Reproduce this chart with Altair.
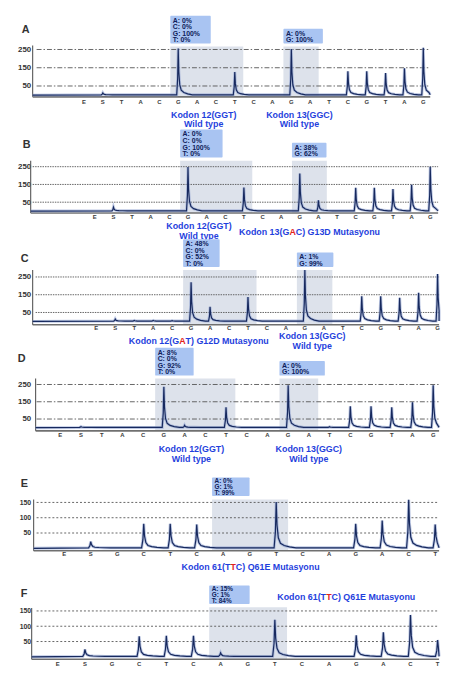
import altair as alt
import pandas as pd

# ---------------- values ----------------
DISP_12_13 = ["E", "S", "T", "A", "C", "G", "A", "C", "T", "C", "A", "G", "A", "T", "C", "G", "T", "A", "G"]
DISP_61 = ["E", "S", "G", "C", "T", "C", "A", "G", "T", "C", "A", "G", "A", "C", "T"]

PEAKS_A = [0, 12, 0, 0, 0, 255, 0, 0, 127, 0, 0, 252, 0, 0, 131, 130, 121, 147, 259]
PEAKS_B = [0, 22, 0, 0, 0, 248, 0, 0, 133, 0, 0, 211, 61, 0, 131, 131, 124, 148, 250]
PEAKS_C = [0, 13, 5, 5, 4, 220, 82, 0, 137, 0, 0, 289, 0, 0, 141, 141, 133, 161, 267]
PEAKS_D = [0, 6, 0, 0, 0, 237, 14, 0, 118, 0, 0, 246, 0, 5, 124, 124, 118, 147, 246]
PEAKS_E = [0, 22, 0, 80, 80, 78, 0, 0, 151, 0, 0, 80, 91, 159, 78]
PEAKS_F = [0, 24, 0, 67, 69, 69, 13, 0, 121, 0, 0, 70, 80, 137, 55]

TICKS_12_13 = [50, 150, 250]
TICKS_61 = [50, 100, 150]

# highlighted codons as (first, last) dispensation index
CODONS_12_13 = [(5, 8), (11, 12)]
CODONS_61 = [(6, 8)]

ALLELES_A = ["A: 0%\nC: 0%\nG: 100%\nT: 0%", "A: 0%\nG: 100%"]
ALLELES_B = ["A: 0%\nC: 0%\nG: 100%\nT: 0%", "A: 38%\nG: 62%"]
ALLELES_C = ["A: 48%\nC: 0%\nG: 52%\nT: 0%", "A: 1%\nG: 99%"]
ALLELES_D = ["A: 8%\nC: 0%\nG: 92%\nT: 0%", "A: 0%\nG: 100%"]
ALLELES_E = ["A: 0%\nG: 1%\nT: 99%"]
ALLELES_F = ["A: 15%\nG: 1%\nT: 84%"]

# label lines: list of (text, is_red) segments
WT12 = [[("Kodon 12(GGT)", 0)], [("Wild type", 0)]]
WT13 = [[("Kodon 13(GGC)", 0)], [("Wild type", 0)]]
MUT13 = [[("Kodon 13(G", 0), ("A", 1), ("C)  G13D Mutasyonu", 0)]]
MUT12 = [[("Kodon 12(G", 0), ("A", 1), ("T) G12D Mutasyonu", 0)]]
MUT61 = [[("Kodon 61(T", 0), ("T", 1), ("C) Q61E Mutasyonu", 0)]]

LABELS_A = [WT12, WT13]
LABELS_B = [WT12, MUT13]
LABELS_C = [MUT12, WT13]
LABELS_D = [WT12, WT13]
LABELS_E = [MUT61]
LABELS_F = [MUT61]

TAGS = ["A", "B", "C", "D", "E", "F"]

# ---------------- styles ----------------
FONT = "Liberation Sans"
BLUE = "#1f3fdd"
RED = "#e3231c"
NAVY = "#17295e"
HALO = "#9aabd4"
HL = "#dde2eb"
ANN = "#a9c4f2"
ANN_TXT = "#0f1d5a"
GRID = "#555555"
AXIS = "#707070"

AW = {"K": 722, "o": 611, "d": 611, "n": 611, " ": 278, "(": 333, ")": 333, "G": 778,
      "A": 722, "T": 611, "C": 722, "W": 944, "i": 278, "l": 278, "t": 333, "y": 556,
      "p": 611, "e": 556, "D": 722, "M": 833, "u": 611, "a": 556, "s": 556, "Q": 778, "E": 667}


def text_width(s, size):
    return sum(AW.get(c, 556) for c in s) * size / 1000.0


PLOT_LEFT = 32
PLOT_RIGHT = 444

# ---------------- layout (page pixel coordinates) ----------------
LAYOUT = [
    dict(top=38.5, zero=90.25, k=0.185, p0=84, d=19.11, axis0=32, right=435, grid0=36, axis_y=92,
         letters_y=97, vtop=40, hl_top=41, ann_bottom=38, ann_w=[41, 40], ann_fs=7, ann_lh=6.7,
         label_xy=[(205.5, 110), (302.5, 110)], label_ls=10, label_fs=9, tag_xy=(21, 24),
         dash=[5, 2, 1.5, 2], tick_fs=8),
    dict(top=155.7, zero=207, k=0.18, p0=95, d=18.89, axis0=30, right=443, grid0=32, axis_y=209,
         letters_y=213.5, vtop=156, hl_top=156, ann_bottom=152.7, ann_w=[43, 35], ann_fs=7, ann_lh=6.7,
         label_xy=[(200.7, 222), (314, 228)], label_ls=10, label_fs=9, tag_xy=(22, 140),
         dash=[1.5, 1], tick_fs=8),
    dict(top=264.9, zero=318, k=0.18, p0=96.5, d=19.22, axis0=32, right=444, grid0=35, axis_y=321.5,
         letters_y=325, vtop=266, hl_top=266, ann_bottom=263, ann_w=[37, 37], ann_fs=7, ann_lh=6.7,
         label_xy=[(200.5, 338), (315.5, 333)], label_ls=10, label_fs=9, tag_xy=(20, 254.5),
         dash=[1.5, 1], tick_fs=8),
    dict(top=375.9, zero=425.75, k=0.175, p0=60, d=21.0, axis0=35, right=444, grid0=36, axis_y=429,
         letters_y=433.5, vtop=376, hl_top=376, ann_bottom=373, ann_w=[39, 46], ann_fs=7, ann_lh=6.7,
         label_xy=[(193, 447.5), (312, 447.5)], label_ls=10, label_fs=9, tag_xy=(17, 356.5),
         dash=[5, 2, 1.5, 2], tick_fs=8),
    dict(top=496.35, zero=547.5, k=0.31, p0=64, d=26.86, axis0=33, right=444, grid0=36, axis_y=550,
         letters_y=553.5, vtop=498, hl_top=498, ann_bottom=494.5, ann_w=[38], ann_fs=6.5, ann_lh=5.8,
         label_xy=[(253, 566)], label_ls=10, label_fs=9, tag_xy=(20, 482.5), dash=[2, 2], tick_fs=7),
    dict(top=606.35, zero=657.5, k=0.31, p0=57.5, d=27.5, axis0=31, right=444, grid0=36, axis_y=660,
         letters_y=665, vtop=608, hl_top=607.3, ann_bottom=604, ann_w=[41], ann_fs=6.5, ann_lh=5.8,
         label_xy=[(350, 597)], label_ls=10, label_fs=9, tag_xy=(20, 593.5), dash=[2, 2], tick_fs=7),
]
PAGE_BOTTOM = 662  # last panel's area ends here (the page must fit the window)

PANELS = [
    dict(disp=DISP_12_13, peaks=PEAKS_A, ticks=TICKS_12_13, codons=CODONS_12_13, alleles=ALLELES_A, labels=LABELS_A),
    dict(disp=DISP_12_13, peaks=PEAKS_B, ticks=TICKS_12_13, codons=CODONS_12_13, alleles=ALLELES_B, labels=LABELS_B),
    dict(disp=DISP_12_13, peaks=PEAKS_C, ticks=TICKS_12_13, codons=CODONS_12_13, alleles=ALLELES_C, labels=LABELS_C),
    dict(disp=DISP_12_13, peaks=PEAKS_D, ticks=TICKS_12_13, codons=CODONS_12_13, alleles=ALLELES_D, labels=LABELS_D),
    dict(disp=DISP_61, peaks=PEAKS_E, ticks=TICKS_61, codons=CODONS_61, alleles=ALLELES_E, labels=LABELS_E),
    dict(disp=DISP_61, peaks=PEAKS_F, ticks=TICKS_61, codons=CODONS_61, alleles=ALLELES_F, labels=LABELS_F),
]

# peak drawing profile (index offset, fraction of height)
SHAPE = [(-0.08, 0.0), (-0.03, 0.35), (0.0, 1.0), (0.03, 0.5), (0.08, 0.22), (0.16, 0.1),
         (0.3, 0.05), (0.5, 0.02), (0.75, 0.0)]
BASE = 1.5

ONE = pd.DataFrame({"a": [0]})


def build_trace(peaks, x0, x1):
    rows = [(x0, 0.0)]
    for i, h in enumerate(peaks):
        if h <= 0:
            continue
        for off, f in SHAPE:
            xx = i + off
            if xx <= x1:
                rows.append((xx, BASE + f * (h - BASE)))
    rows.append((x1, BASE))
    df = pd.DataFrame(rows, columns=["x", "y"]).sort_values("x").reset_index(drop=True)
    df["o"] = range(len(df))
    return df


def make_panel(idx, p, L, next_top):
    top, zero, k, p0, d = L["top"], L["zero"], L["k"], L["p0"], L["d"]
    height = next_top - top
    width = PLOT_RIGHT - PLOT_LEFT
    ymax = (zero - top) / k
    ymin = ymax - height / k
    xmin = (PLOT_LEFT - p0) / d
    xmax = (PLOT_RIGHT - p0) / d

    def X(px):
        return (px - p0) / d

    def V(py):
        return (zero - py) / k

    def PX(px):
        return px - PLOT_LEFT

    def PY(py):
        return py - top

    xs = alt.Scale(domain=[xmin, xmax], nice=False, zero=False)
    ys = alt.Scale(domain=[ymin, ymax], nice=False, zero=False)
    yaxis = alt.Axis(values=p["ticks"], domain=False, ticks=False, grid=False, labelFont=FONT,
                     labelFontSize=L["tick_fs"], labelFontWeight="bold", labelColor="#333333",
                     labelPadding=2, title="")

    def xe(f):
        return alt.X(f"{f}:Q", scale=xs, axis=None)

    def ye(f):
        return alt.Y(f"{f}:Q", scale=ys, axis=yaxis)

    layers = []

    # highlighted codon regions
    hl = pd.DataFrame({
        "x0": [a - 0.42 for a, b in p["codons"]],
        "x1": [b + 0.45 for a, b in p["codons"]],
        "y0": [V(L["axis_y"])] * len(p["codons"]),
        "y1": [V(L["hl_top"])] * len(p["codons"]),
    })
    layers.append(alt.Chart(hl).mark_rect(color=HL).encode(
        x=xe("x0"), x2=alt.X2("x1"), y=ye("y1"), y2=alt.Y2("y0")))

    # grid lines
    grid = pd.DataFrame({"y": p["ticks"]})
    layers.append(alt.Chart(grid).mark_rule(color=GRID, strokeWidth=0.9, strokeDash=L["dash"]).encode(
        y=ye("y"), x=alt.value(PX(L["grid0"])), x2=alt.value(PX(L["right"]))))

    # axis lines
    layers.append(alt.Chart(ONE).mark_rule(color=AXIS, strokeWidth=1.6).encode(
        x=alt.value(PX(L["axis0"])), x2=alt.value(PX(L["right"])), y=alt.value(PY(L["axis_y"]))))
    layers.append(alt.Chart(ONE).mark_rule(color="#555555", strokeWidth=1.1).encode(
        x=alt.value(PX(L["axis0"])), y=alt.value(PY(L["vtop"])), y2=alt.value(PY(L["axis_y"]))))

    # pyrogram trace
    tr = build_trace(p["peaks"], X(L["axis0"]), X(L["right"]))
    layers.append(alt.Chart(tr).mark_line(color=HALO, strokeWidth=3, opacity=0.65).encode(
        x=xe("x"), y=ye("y"), order="o:Q"))
    layers.append(alt.Chart(tr).mark_line(color=NAVY, strokeWidth=1.2).encode(
        x=xe("x"), y=ye("y"), order="o:Q"))

    # dispensation letters
    let = pd.DataFrame({"i": list(range(len(p["disp"]))), "t": p["disp"]})
    layers.append(alt.Chart(let).mark_text(font=FONT, fontSize=6, fontWeight="bold", color="#3c3c3c",
                                            baseline="middle").encode(
        x=xe("i"), y=alt.value(PY(L["letters_y"])), text="t:N"))

    # allele annotation boxes
    n = [a.count("\n") + 1 for a in p["alleles"]]
    tops = [L["ann_bottom"] - m * L["ann_lh"] - 1.5 for m in n]
    ann = pd.DataFrame({
        "x0": [a - 0.42 for a, b in p["codons"]],
        "x1": [a - 0.42 + w / d for (a, b), w in zip(p["codons"], L["ann_w"])],
        "yt": [V(t) for t in tops],
        "ty": [V(t + 1.0) for t in tops],
        "yb": [V(L["ann_bottom"])] * len(n),
        "t": p["alleles"],
    })
    layers.append(alt.Chart(ann).mark_rect(color=ANN, cornerRadius=1).encode(
        x=xe("x0"), x2=alt.X2("x1"), y=ye("yt"), y2=alt.Y2("yb")))
    layers.append(alt.Chart(ann).mark_text(font=FONT, fontSize=L["ann_fs"], fontWeight="bold", color=ANN_TXT,
                                            align="left", baseline="top", lineBreak="\n",
                                            lineHeight=L["ann_lh"], dx=2.5).encode(
        x=xe("x0"), y=ye("ty"), text="t:N"))

    # codon labels (mutated base in red)
    fs = L["label_fs"]
    for (cx, cy), lines in zip(L["label_xy"], p["labels"]):
        for j, segs in enumerate(lines):
            total = sum(text_width(s, fs) for s, r in segs)
            x = cx - total / 2
            y = cy + j * L["label_ls"]
            for s, r in segs:
                layers.append(alt.Chart(ONE).mark_text(
                    text=s, font=FONT, fontSize=fs, fontWeight="bold",
                    color=RED if r else BLUE, align="left", baseline="middle").encode(
                    x=alt.value(PX(x)), y=alt.value(PY(y))))
                x += text_width(s, fs)

    # panel tag
    tx, ty = L["tag_xy"]
    layers.append(alt.Chart(ONE).mark_text(text=TAGS[idx], font=FONT, fontSize=11, fontWeight="bold",
                                           color="#333333", align="left", baseline="middle").encode(
        x=alt.value(PX(tx)), y=alt.value(PY(ty))))

    # anchor of the page's top-left corner (first panel only)
    if idx == 0:
        layers.append(alt.Chart(ONE).mark_point(opacity=0, size=1, filled=True).encode(
            x=alt.value(PX(8)), y=alt.value(PY(8))))

    return alt.layer(*layers).properties(width=width, height=height)


panels = []
for i, (p, L) in enumerate(zip(PANELS, LAYOUT)):
    nxt = PAGE_BOTTOM if i + 1 == len(LAYOUT) else LAYOUT[i + 1]["top"]
    panels.append(make_panel(i, p, L, nxt))

chart = alt.vconcat(*panels, spacing=0, bounds="flush").properties(padding=0).configure_view(
    stroke="transparent")

chart.save("out.html", embed_options={"renderer": "svg", "actions": False})
